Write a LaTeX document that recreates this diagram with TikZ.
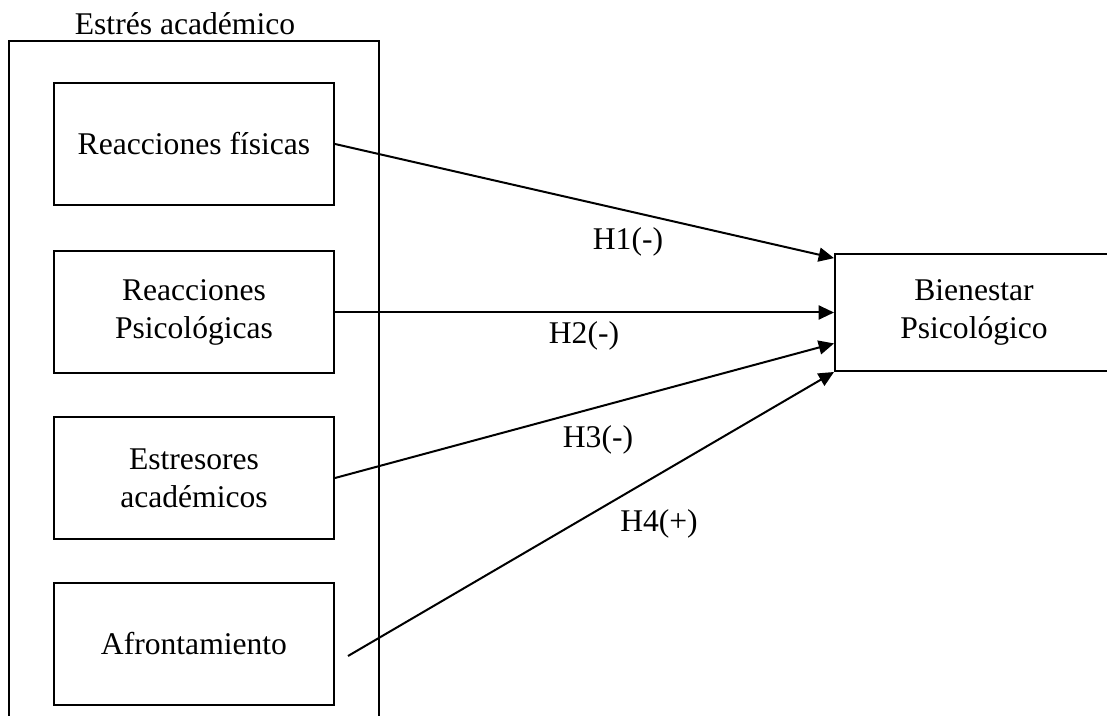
\documentclass[tikz,border=0pt]{standalone}
\usepackage{fontspec}
\setmainfont{Liberation Serif}
\usetikzlibrary{arrows.meta,calc}

\tikzset{
  varbox/.style={draw, line width=1.5, minimum width=210pt, minimum height=91.5pt, align=center, inner sep=0pt},
  hyparrow/.style={line width=1.5, -{Triangle[length=11.5pt,width=10.5pt]}},
  hyplabel/.style={inner sep=0pt}
}

\begin{document}
\begin{tikzpicture}[x=0.75pt,y=0.75pt,yscale=-1,xscale=1,font=\fontsize{23.7}{28.5}\selectfont]
\useasboundingbox (0,0) rectangle (1107,716);
\clip (0,0) rectangle (1107,716);

%Shape: Rectangle [id:outer]
\draw [line width=1.5] (9,41) rectangle (379,740) ;
% Text Node
\node (estres) at (185,24) {Estrés académico};

%Shape: Rectangles [id:dimensions]
\node [varbox] (reacfis) at (194,144) {Reacciones físicas};
\node [varbox] (reacpsi) at (194,312.5) {Reacciones\\Psicológicas};
\node [varbox] (estresores) at (194,478) {Estresores\\académicos};
\node [varbox] (afront) at (194,643.5) {Afrontamiento};

%Shape: Rectangle [id:outcome]
\node [varbox, minimum width=208.5pt, minimum height=87.75pt] (bienestar) at (974,312.5) {Bienestar\\Psicológico};

%Straight Lines [id:hypotheses]
\coordinate (afrontout) at (348,656) ;
\draw [hyparrow] (reacfis.east) -- ($(bienestar.north west)!0.043!(bienestar.south west)$) ;
\draw [hyparrow] (reacpsi.east) -- (bienestar.west) ;
\draw [hyparrow] (estresores.east) -- ($(bienestar.north west)!0.76!(bienestar.south west)$) ;
\draw [hyparrow] (afrontout) -- (bienestar.south west) ;

% Text Node
\node [hyplabel] (h1) at (628,242) {H1(-)};
% Text Node
\node [hyplabel] (h2) at (584,336) {H2(-)};
% Text Node
\node [hyplabel] (h3) at (598,440) {H3(-)};
% Text Node
\node [hyplabel] (h4) at (659,524) {H4(+)};

\end{tikzpicture}
\end{document}
